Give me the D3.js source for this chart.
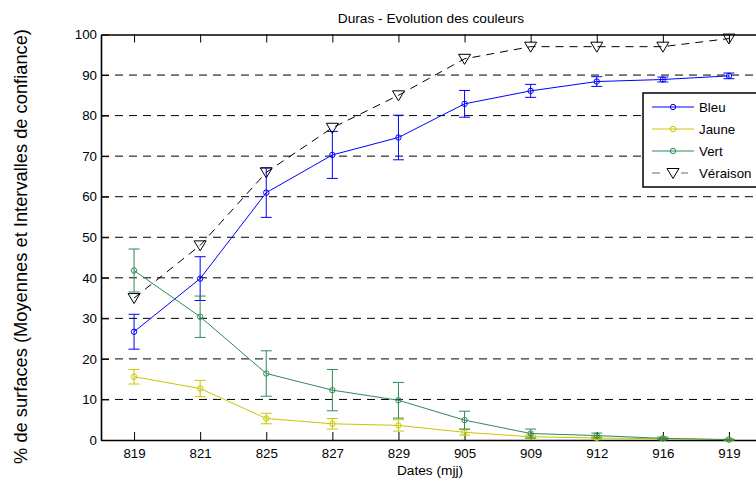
<!DOCTYPE html>
<html>
<head>
<meta charset="utf-8">
<script src="https://cdn.jsdelivr.net/npm/d3@7"></script>
<style>
    body { margin: 0; background: #fff; overflow: hidden; }
    text { font-family: "Liberation Sans", Arial, sans-serif; fill: #000; }
</style>
</head>
<body>
<div id="chart"></div>
<script>
// ===============================
// DATA
// ===============================
const dates = ["819", "821", "825", "827", "829", "905", "909", "912", "916", "919"];
const yTicks = [0, 10, 20, 30, 40, 50, 60, 70, 80, 90, 100];

const bleu     = [26.7, 39.8, 61.0, 70.3, 74.6, 82.9, 86.1, 88.4, 88.9, 89.8];
const bleuErr  = [4.3, 5.4, 6.1, 5.8, 5.5, 3.3, 1.6, 1.2, 0.6, 0.7];
const jaune    = [15.6, 12.7, 5.3, 4.0, 3.6, 1.9, 0.8, 0.5, 0.3, 0.1];
const jauneErr = [1.8, 2.0, 1.3, 1.3, 1.4, 0.7, 0.4, 0.4, 0.2, 0.1];
const vert     = [41.8, 30.4, 16.4, 12.3, 9.8, 4.9, 1.6, 1.1, 0.4, 0.1];
const vertErr  = [5.3, 5.1, 5.6, 5.1, 4.4, 2.2, 1.1, 0.6, 0.3, 0.1];
const veraison = [35, 48, 66, 77, 85, 94, 97, 97, 97, 99];

const series = [
    { name: "Bleu",  values: bleu,  err: bleuErr,  color: "#0000ff" },
    { name: "Jaune", values: jaune, err: jauneErr, color: "#c8c800" },
    { name: "Vert",  values: vert,  err: vertErr,  color: "#2e8b57" }
];

// ===============================
// LAYOUT
// ===============================
const width = 800;
const height = 480;
const plotLeft = 101, plotRight = 762, plotTop = 34.5, plotBottom = 440;

const svg = d3.select("#chart")
    .append("svg")
    .attr("width", width)
    .attr("height", height);

const x = d3.scalePoint()
    .domain(dates)
    .range([plotLeft, plotRight])
    .padding(0.5);

const y = d3.scaleLinear()
    .domain([0, 100])
    .range([plotBottom, plotTop]);

// grid lines
svg.append("g")
    .selectAll("line")
    .data(yTicks.filter(t => t > 0 && t < 100))
    .enter()
    .append("line")
    .attr("x1", plotLeft)
    .attr("x2", plotRight)
    .attr("y1", d => y(d))
    .attr("y2", d => y(d))
    .attr("stroke", "#000")
    .attr("stroke-width", 1)
    .attr("stroke-dasharray", "8,6");

// axes (ticks point inward, like the original)
const xAxis = svg.append("g")
    .attr("transform", `translate(0,${plotBottom})`)
    .call(d3.axisBottom(x).tickSizeInner(-8).tickSizeOuter(0).tickPadding(8.5));

const xTop = svg.append("g")
    .attr("transform", `translate(0,${plotTop})`)
    .call(d3.axisTop(x).tickSizeInner(-8).tickSizeOuter(0).tickFormat(""));

const yAxis = svg.append("g")
    .attr("transform", `translate(${plotLeft},0)`)
    .call(d3.axisLeft(y).tickValues(yTicks).tickSizeInner(-8).tickSizeOuter(0).tickPadding(4));

[xAxis, xTop, yAxis].forEach(g => {
    g.select(".domain").attr("stroke", "#000").attr("stroke-width", 1.6);
    g.selectAll(".tick line").attr("stroke", "#000").attr("stroke-width", 1);
    g.selectAll("text")
        .style("font-family", "'Liberation Sans', Arial, sans-serif")
        .style("font-size", "13.3px")
        .attr("fill", "#000");
});

// ===============================
// SERIES
// ===============================
const line = d3.line()
    .x((d, i) => x(dates[i]))
    .y(d => y(d));

series.forEach(s => {
    const g = svg.append("g");

    // error bars
    s.values.forEach((v, i) => {
        const cx = x(dates[i]);
        const lo = y(v - s.err[i]);
        const hi = y(v + s.err[i]);
        g.append("line")
            .attr("x1", cx).attr("x2", cx)
            .attr("y1", lo).attr("y2", hi)
            .attr("stroke", s.color).attr("stroke-width", 1);
        [lo, hi].forEach(yy => {
            g.append("line")
                .attr("x1", cx - 5.5).attr("x2", cx + 5.5)
                .attr("y1", yy).attr("y2", yy)
                .attr("stroke", s.color).attr("stroke-width", 1);
        });
    });

    g.append("path")
        .datum(s.values)
        .attr("d", line)
        .attr("fill", "none")
        .attr("stroke", s.color)
        .attr("stroke-width", 1);

    g.selectAll("circle")
        .data(s.values)
        .enter()
        .append("circle")
        .attr("cx", (d, i) => x(dates[i]))
        .attr("cy", d => y(d))
        .attr("r", 2.7)
        .attr("fill", "none")
        .attr("stroke", s.color)
        .attr("stroke-width", 1);
});

// veraison: dashed black line with down triangles
const tri = "M-6,-4.5L6,-4.5L0,5.5Z";

svg.append("path")
    .datum(veraison)
    .attr("d", line)
    .attr("fill", "none")
    .attr("stroke", "#000")
    .attr("stroke-width", 1)
    .attr("stroke-dasharray", "8,6");

svg.append("g")
    .selectAll("path")
    .data(veraison)
    .enter()
    .append("path")
    .attr("d", tri)
    .attr("transform", (d, i) => `translate(${x(dates[i])},${y(d)})`)
    .attr("fill", "none")
    .attr("stroke", "#000")
    .attr("stroke-width", 1);

// ===============================
// LEGEND
// ===============================
const legend = svg.append("g").attr("transform", "translate(643,93)");

legend.append("rect")
    .attr("width", 140)
    .attr("height", 94)
    .attr("fill", "#fff")
    .attr("stroke", "#000")
    .attr("stroke-width", 1.5);

const legendItems = series.map(s => ({ name: s.name, color: s.color, dash: null, marker: "circle" }))
    .concat([{ name: "Véraison", color: "#000", dash: "8,6", marker: "tri" }]);

legendItems.forEach((d, i) => {
    const ly = 14 + i * 22;
    legend.append("line")
        .attr("x1", 9).attr("x2", 51)
        .attr("y1", ly).attr("y2", ly)
        .attr("stroke", d.marker === "tri" ? "#666" : d.color)
        .attr("stroke-width", 1)
        .attr("stroke-dasharray", d.dash);
    if (d.marker === "circle") {
        legend.append("circle")
            .attr("cx", 30).attr("cy", ly).attr("r", 2.7)
            .attr("fill", "none").attr("stroke", d.color);
    } else {
        legend.append("rect")
            .attr("x", 22).attr("y", ly - 7).attr("width", 16).attr("height", 14)
            .attr("fill", "#fff");
        legend.append("path")
            .attr("d", tri)
            .attr("transform", `translate(30,${ly})`)
            .attr("fill", "none").attr("stroke", "#000");
    }
    legend.append("text")
        .attr("x", 56)
        .attr("y", ly + 4.7)
        .style("font-size", "13.3px")
        .text(d.name);
});

// ===============================
// TITLES
// ===============================
svg.append("text")
    .attr("x", 431)
    .attr("y", 22.5)
    .attr("text-anchor", "middle")
    .style("font-size", "13.7px")
    .text("Duras - Evolution des couleurs");

svg.append("text")
    .attr("x", 430)
    .attr("y", 475)
    .attr("text-anchor", "middle")
    .style("font-size", "13.7px")
    .text("Dates (mjj)");

svg.append("text")
    .attr("transform", "translate(27,246.5) rotate(-90)")
    .attr("text-anchor", "middle")
    .style("font-size", "18.3px")
    .text("% de surfaces (Moyennes et Intervalles de confiance)");
</script>
</body>
</html>
